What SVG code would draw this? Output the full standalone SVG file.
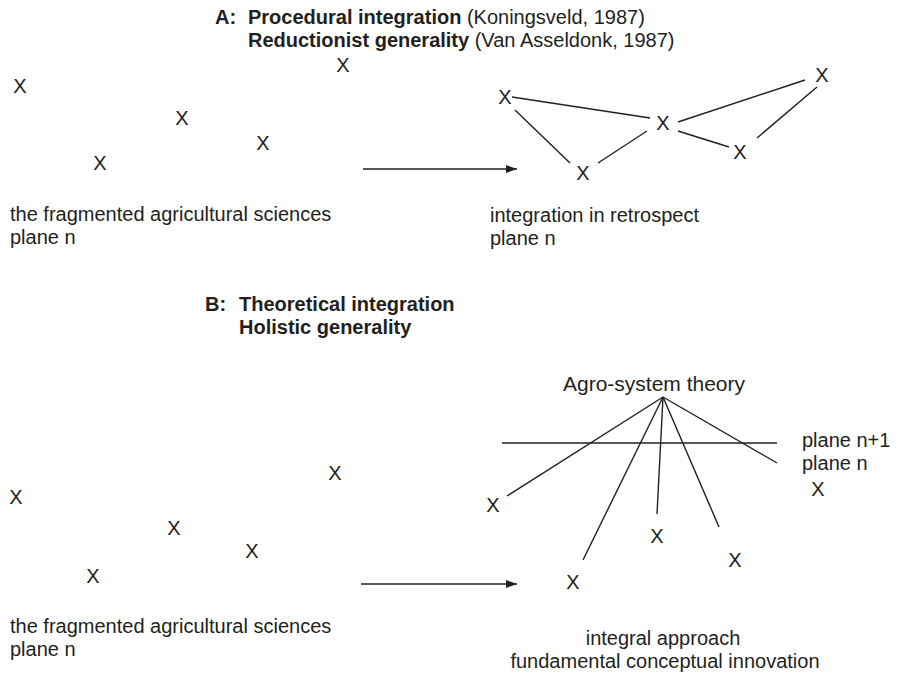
<svg xmlns="http://www.w3.org/2000/svg" width="897" height="673" viewBox="0 0 897 673">
<defs>
<style>
text{font-family:"Liberation Sans",Arial,sans-serif;fill:#231f20}
.t{font-size:20px}
.b{font-size:20px;font-weight:bold}
.r{font-weight:normal}
.x{font-size:20px;text-anchor:middle}
.m{text-anchor:middle}
.ln{stroke:#231f20;stroke-width:1.4;fill:none}
</style>
<marker id="ah" markerWidth="11" markerHeight="8" refX="11" refY="4" orient="auto" markerUnits="userSpaceOnUse">
<path d="M0,0 L11,4 L0,8 Z" fill="#231f20"/>
</marker>
</defs>
<rect width="897" height="673" fill="#fff"/>
<g id="titleA">
<text class="b" x="215" y="24">A:<tspan x="248">Procedural integration</tspan><tspan class="r"> (Koningsveld, 1987)</tspan><tspan x="248" dy="22.5">Reductionist generality</tspan><tspan class="r"> (Van Asseldonk, 1987)</tspan></text>
</g>
<g id="A-left">
<text class="x" x="20" y="93">X</text>
<text class="x" x="343" y="72">X</text>
<text class="x" x="182" y="125">X</text>
<text class="x" x="263" y="150">X</text>
<text class="x" x="100" y="170">X</text>
<text class="t" x="10" y="221">the fragmented agricultural sciences<tspan x="10" dy="22.5">plane n</tspan></text>
</g>
<g id="A-right">
<text class="x" x="505" y="104">X</text>
<text class="x" x="663" y="130">X</text>
<text class="x" x="583" y="180">X</text>
<text class="x" x="740" y="159">X</text>
<text class="x" x="822" y="82">X</text>
<text class="t" x="490" y="222">integration in retrospect<tspan x="490" dy="22.5">plane n</tspan></text>
</g>
<g id="titleB">
<text class="b" x="205" y="311">B:<tspan x="239">Theoretical integration</tspan><tspan x="239" dy="22.5">Holistic generality</tspan></text>
</g>
<g id="B-left">
<text class="x" x="16" y="504">X</text>
<text class="x" x="335" y="480">X</text>
<text class="x" x="174" y="535">X</text>
<text class="x" x="252" y="558">X</text>
<text class="x" x="93" y="583">X</text>
<text class="t" x="10" y="633">the fragmented agricultural sciences<tspan x="10" dy="22.5">plane n</tspan></text>
</g>
<g id="B-right">
<text class="m" x="654" y="391" font-size="21">Agro-system theory</text>
<text class="t" x="802" y="447">plane n+1<tspan x="802" dy="22.5">plane n</tspan></text>
<text class="x" x="493" y="512">X</text>
<text class="x" x="573" y="589">X</text>
<text class="x" x="657" y="543">X</text>
<text class="x" x="735" y="567">X</text>
<text class="x" x="818" y="496">X</text>
<text class="t m" x="663" y="645">integral approach<tspan x="665" dy="22.5">fundamental conceptual innovation</tspan></text>
</g>
<g id="connectors">
<line class="ln" x1="363" y1="169" x2="517" y2="169" marker-end="url(#ah)"/>
<line class="ln" x1="512" y1="97" x2="650" y2="118"/>
<line class="ln" x1="515" y1="110" x2="570" y2="163"/>
<line class="ln" x1="598" y1="163" x2="647" y2="131"/>
<line class="ln" x1="678" y1="122" x2="805" y2="80"/>
<line class="ln" x1="678" y1="131" x2="729" y2="147"/>
<line class="ln" x1="757" y1="138" x2="817" y2="87"/>
<line class="ln" x1="361" y1="584" x2="517" y2="584" marker-end="url(#ah)"/>
<line class="ln" x1="502" y1="443" x2="777" y2="443"/>
<line class="ln" x1="663" y1="397" x2="507" y2="496"/>
<line class="ln" x1="663" y1="397" x2="583" y2="560"/>
<line class="ln" x1="663" y1="397" x2="657" y2="514"/>
<line class="ln" x1="663" y1="397" x2="719" y2="527"/>
<line class="ln" x1="663" y1="397" x2="777" y2="463"/>
</g>
</svg>
